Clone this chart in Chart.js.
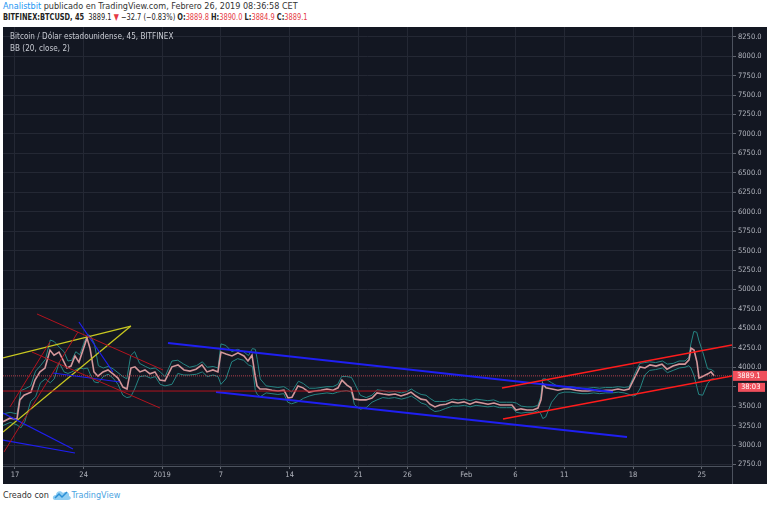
<!DOCTYPE html>
<html>
<head>
<meta charset="utf-8">
<script src="https://cdn.jsdelivr.net/npm/chart.js@4.4.1/dist/chart.umd.min.js"></script>
<style>
  body { margin:0; width:768px; height:506px; background:#fff; position:relative; overflow:hidden;
         font-family:'Liberation Sans Narrow','DejaVu Sans Condensed','Open Sans',sans-serif; }
  #head1 { position:absolute; left:3px; top:1px; font-size:9px; color:#333; white-space:nowrap; }
  #head2 { position:absolute; left:3px; top:12px; font-size:9px; color:#222; white-space:nowrap;
           transform:scaleX(0.82); transform-origin:left top; }
  .red { color:#e53b45; }
  .blue { color:#2196f3; }
  #panel { position:absolute; left:3px; top:27px; width:764px; height:457px; background:#131722; }
  #legend { position:absolute; left:7px; top:3px; color:#c8cbd3; font-size:9px; line-height:12px;
            white-space:nowrap; transform:scaleX(0.9); transform-origin:left top; pointer-events:none; }
  #foot { position:absolute; left:3px; top:489px; font-size:9px; color:#333; white-space:nowrap; }
  #foot svg { vertical-align:middle; }
  #foot .tv { color:#4aa3df; }
</style>
</head>
<body>
<div id="head1"><span class="blue">Analistbit</span> publicado en TradingView.com, Febrero 26, 2019 08:36:58 CET</div>
<div id="head2"><b>BITFINEX:BTCUSD, 45</b>&nbsp; 3889.1 <span class="red">▼</span> −32.7 (−0.83%) <b>O:</b><span class="red">3889.8</span> <b>H:</b><span class="red">3890.0</span> <b>L:</b><span class="red">3884.9</span> <b>C:</b><span class="red">3889.1</span></div>
<div id="panel">
  <canvas id="chart"></canvas>
  <div id="legend">Bitcoin / Dólar estadounidense, 45, BITFINEX<br>BB (20, close, 2)</div>
</div>
<div id="foot">Creado con <svg width="20" height="12" viewBox="0 0 20 12"><path d="M3 11 C0 11 0 6 4 6 C4 2 9 1 11 4 C13 2 18 3 17 7 C20 8 19 11 16 11 Z" fill="#8fcdf2"/><path d="M3 9 L7 5 L10 8 L15 3" stroke="#2a8fd6" stroke-width="1.5" fill="none"/></svg><span class="tv">TradingView</span></div>

<script>
// x values are day numbers counted from Dec 1 2018 (Jan 1 = 32, Feb 1 = 63)
const xTickDays = [17, 24, 32, 38, 45, 52, 57, 63, 68, 73, 80, 87];
const xTickLabels = ["17", "24", "2019", "7", "14", "21", "26", "Feb", "6", "11", "18", "25"];
const yTicks = [2750, 3000, 3250, 3500, 3750, 4000, 4250, 4500, 4750, 5000, 5250, 5500, 5750,
  6000, 6250, 6500, 6750, 7000, 7250, 7500, 7750, 8000, 8250];

const days = [15.78, 16.49, 17.2, 17.5, 17.92, 18.63, 19.04, 19.55, 20.06, 20.57,
  20.98, 21.49, 21.89, 22.3, 22.71, 23.12, 23.52, 23.93, 24.34, 24.65,
  25.05, 25.46, 25.97, 26.48, 26.99, 27.5, 28.01, 28.42, 28.82, 29.23,
  29.74, 30.25, 30.76, 31.27, 31.78, 32.29, 33.0, 33.62, 34.23, 34.84,
  35.45, 36.06, 36.57, 37.18, 37.69, 38.0, 38.51, 39.12, 39.73, 40.34,
  40.75, 41.16, 41.47, 41.67, 41.97, 42.59, 43.2, 43.81, 44.42, 44.83,
  45.24, 45.85, 46.36, 46.97, 47.58, 48.19, 48.8, 49.42, 49.93, 50.33,
  50.84, 51.25, 51.56, 52.17, 52.78, 53.39, 53.9, 54.51, 55.12, 55.74,
  56.35, 56.96, 57.37, 57.88, 58.39, 58.9, 59.3, 59.81, 60.32, 60.94,
  61.55, 62.16, 62.77, 63.38, 63.99, 64.61, 65.22, 65.83, 66.44, 67.05,
  67.66, 68.07, 68.58, 69.19, 69.8, 70.31, 70.62, 70.82, 71.13, 71.74,
  72.35, 72.96, 73.58, 74.19, 74.8, 75.41, 76.02, 76.63, 77.24, 77.86,
  78.47, 79.08, 79.59, 80.0, 80.3, 80.71, 81.22, 81.73, 82.34, 82.95,
  83.46, 84.07, 84.69, 85.3, 85.71, 85.91, 86.22, 86.52, 86.73, 87.13,
  87.64, 87.95, 88.26];
const closes = [3300, 3345, 3330, 3580, 3640, 3680, 3835, 3940, 3990, 4220,
  4155, 4195, 4095, 3990, 4015, 4145, 4065, 4220, 4375, 4245,
  3940, 3885, 3940, 3965, 3915, 3860, 3745, 3720, 3990, 4005,
  3940, 3965, 3915, 3940, 3835, 3825, 4005, 4030, 3965, 3950,
  3975, 4030, 3940, 3965, 3940, 4195, 4170, 4145, 4185, 4145,
  4080, 4155, 3900, 3760, 3720, 3720, 3705, 3695, 3705, 3605,
  3615, 3760, 3735, 3680, 3695, 3705, 3720, 3705, 3735, 3835,
  3770, 3735, 3590, 3580, 3580, 3605, 3670, 3655, 3645, 3655,
  3630, 3655, 3680, 3630, 3590, 3580, 3525, 3490, 3515, 3525,
  3555, 3540, 3555, 3525, 3555, 3540, 3525, 3540, 3515, 3515,
  3515, 3450, 3465, 3450, 3450, 3475, 3580, 3785, 3735, 3720,
  3705, 3720, 3720, 3705, 3695, 3695, 3705, 3695, 3705, 3705,
  3720, 3705, 3720, 3825, 3900, 4005, 3990, 4030, 4015, 4040,
  3975, 4015, 4040, 4040, 4095, 4245, 4220, 4065, 3860, 3885,
  3915, 3940, 3889.1];

const bbDays = [15.78, 16.5, 17.2, 17.6, 18.0, 18.6, 19.1, 19.6, 20.1, 20.6,
  21.0, 21.5, 22.0, 22.4, 22.8, 23.2, 23.6, 24.0, 24.4, 24.7,
  25.1, 25.5, 26.0, 26.5, 27.0, 27.5, 28.0, 28.4, 28.8, 29.2,
  29.7, 30.3, 30.8, 31.3, 31.8, 32.3, 33.0, 33.6, 34.2, 34.8,
  35.5, 36.1, 36.6, 37.2, 37.7, 38.0, 38.5, 39.1, 39.7, 40.3,
  40.8, 41.2, 41.5, 41.7, 42.0, 42.6, 43.2, 43.8, 44.4, 44.8,
  45.2, 45.9, 46.4, 47.0, 47.6, 48.2, 48.8, 49.4, 49.9, 50.3,
  50.8, 51.3, 51.6, 52.2, 52.8, 53.4, 53.9, 54.5, 55.1, 55.7,
  56.4, 57.0, 57.4, 57.9, 58.4, 58.9, 59.3, 59.8, 60.3, 60.9,
  61.6, 62.2, 62.8, 63.4, 64.0, 64.6, 65.2, 65.8, 66.4, 67.1,
  67.7, 68.1, 68.6, 69.2, 69.8, 70.3, 70.6, 70.8, 71.1, 71.7,
  72.4, 73.0, 73.6, 74.2, 74.8, 75.4, 76.0, 76.6, 77.2, 77.9,
  78.5, 79.1, 79.6, 80.0, 80.3, 80.7, 81.2, 81.7, 82.3, 83.0,
  83.5, 84.1, 84.7, 85.3, 85.7, 85.9, 86.2, 86.5, 86.7, 87.1,
  87.6, 88.0, 88.3];
const bbUpper = [3400, 3420, 3400, 3700, 3720, 3760, 3950, 4020, 4100, 4350,
  4330, 4260, 4200, 4080, 4090, 4200, 4160, 4300, 4420, 4400,
  4300, 4020, 3990, 4010, 3980, 3930, 3880, 3850, 4150, 4200,
  4050, 4010, 3980, 3990, 3940, 3880, 4080, 4090, 4040, 4000,
  4020, 4070, 4000, 4010, 3990, 4300, 4280, 4200, 4230, 4200,
  4150, 4240, 4230, 4100, 3850, 3760, 3750, 3740, 3750, 3720,
  3680, 3820, 3790, 3730, 3730, 3740, 3750, 3750, 3780, 3880,
  3880, 3870, 3800, 3640, 3610, 3640, 3710, 3700, 3680, 3690,
  3670, 3690, 3720, 3680, 3650, 3640, 3600, 3560, 3560, 3560,
  3590, 3580, 3590, 3570, 3590, 3580, 3570, 3580, 3550, 3550,
  3550, 3540, 3500, 3490, 3490, 3510, 3620, 3850, 3850, 3800,
  3750, 3750, 3750, 3740, 3730, 3730, 3740, 3730, 3740, 3740,
  3750, 3740, 3750, 3860, 3950, 4050, 4060, 4070, 4060, 4080,
  4040, 4050, 4080, 4080, 4130, 4300, 4460, 4450, 4350, 4200,
  3980, 3970, 3940];
const bbLower = [3250, 3290, 3260, 3220, 3300, 3560, 3620, 3800, 3850, 3800,
  3850, 4060, 3940, 3920, 3940, 3970, 3990, 3980, 3990, 3900,
  3810, 3800, 3880, 3910, 3860, 3780, 3640, 3610, 3620, 3720,
  3880, 3890, 3860, 3880, 3780, 3760, 3780, 3920, 3900, 3900,
  3910, 3940, 3880, 3900, 3880, 3780, 3850, 4070, 4110, 4090,
  4030, 4010, 3700, 3650, 3620, 3670, 3660, 3650, 3660, 3550,
  3530, 3560, 3600, 3630, 3650, 3660, 3670, 3660, 3680, 3690,
  3700, 3680, 3520, 3460, 3480, 3550, 3580, 3610, 3600, 3610,
  3590, 3610, 3630, 3590, 3540, 3520, 3470, 3430, 3440, 3470,
  3500, 3500, 3510, 3490, 3510, 3500, 3490, 3500, 3480, 3480,
  3480, 3420, 3410, 3420, 3420, 3440, 3400, 3340, 3360, 3550,
  3660, 3680, 3680, 3670, 3660, 3660, 3670, 3660, 3670, 3670,
  3680, 3670, 3650, 3630, 3640, 3720, 3900, 3960, 3970, 3990,
  3930, 3960, 3990, 4000, 4020, 3990, 3900, 3750, 3650, 3640,
  3790, 3850, 3850];

// trend lines drawn on the chart: [[day, price], [day, price]]
const darkRedLines = [
  [[19.24, 4685], [32.09, 3965]],
  [[18.73, 4196], [31.78, 3476]],
  [[15.88, 2910], [23.42, 4453]],
  [[16.49, 3489], [20.57, 4325]],
  [[15.78, 3694], [56.96, 3694]]
];
const brightRedLines = [
  [[66.64, 3733], [90.09, 4286]],
  [[66.75, 3334], [90.09, 3887]]
];
const blueLines = [
  [[32.6, 4312], [77.96, 3682]],
  [[37.49, 3682], [79.39, 3103]]
];
const thinBlueLines = [
  [[23.52, 4582], [26.99, 3939]],
  [[20.87, 3926], [27.7, 3810]],
  [[15.78, 3412], [22.91, 2949]],
  [[15.78, 3064], [23.12, 2897]]
];
const yellowLines = [
  [[15.78, 4119], [28.82, 4530]],
  [[15.78, 3167], [28.82, 4530]]
];
const lastPrice = 3889.1;
const countdown = "38:03";
const xMin = 15.78, xMax = 90.09, yMin = 2730, yMax = 8375;

const FONT = "'Liberation Sans Narrow','DejaVu Sans Condensed','Open Sans',sans-serif";

function seg(pts, color, width, order) {
  return {
    data: pts.map(p => ({ x: p[0], y: p[1] })),
    borderColor: color, borderWidth: width, pointRadius: 0, tension: 0, order: order
  };
}

let datasets = [];
darkRedLines.forEach(l => datasets.push(seg(l, "#b3141f", 1, 0)));
brightRedLines.forEach(l => datasets.push(seg(l, "#ff1c1c", 1.6, 0)));
blueLines.forEach(l => datasets.push(seg(l, "#1f1ff2", 2, 0)));
thinBlueLines.forEach(l => datasets.push(seg(l, "#1f1ff2", 1.2, 0)));
yellowLines.forEach(l => datasets.push(seg(l, "#c9c820", 1.3, 0)));
datasets.push({
  data: [{ x: xMin, y: lastPrice }, { x: xMax, y: lastPrice }],
  borderColor: "rgba(230,80,90,0.75)", borderWidth: 1, borderDash: [1, 1], pointRadius: 0, order: 1
});
datasets.push(seg(days.map((d, i) => [d, closes[i]]), "#d4979b", 1.6, 2));
datasets.push(seg(bbDays.map((d, i) => [d, bbUpper[i]]), "#268583", 1, 3));
datasets.push(seg(bbDays.map((d, i) => [d, bbLower[i]]), "#268583", 1, 3));

const priceTag = {
  id: "priceTag",
  afterDraw(chart) {
    const { ctx, chartArea, scales } = chart;
    const y = scales.y.getPixelForValue(lastPrice);
    const r = chartArea.right;
    ctx.save();
    ctx.strokeStyle = "#4c525e";
    ctx.lineWidth = 1;
    ctx.beginPath();
    ctx.moveTo(r + 0.5, 0);
    ctx.lineTo(r + 0.5, chart.height);
    ctx.stroke();
    ctx.fillStyle = "#ef4f5c";
    ctx.fillRect(r + 1, y - 5, chart.width - r - 1, 10);
    ctx.fillRect(r + 6, y + 7, 27, 9);
    ctx.fillStyle = "#fff";
    ctx.font = "7.5px " + FONT;
    ctx.textBaseline = "middle";
    ctx.fillText(lastPrice.toFixed(1), r + 5, y + 0.5);
    ctx.fillText(countdown, r + 9, y + 11.5);
    ctx.restore();
  }
};

new Chart(document.getElementById("chart"), {
  type: "line",
  data: { datasets: datasets },
  options: {
    responsive: true,
    maintainAspectRatio: false,
    animation: false,
    layout: { padding: 0 },
    plugins: { legend: { display: false }, tooltip: { enabled: false } },
    scales: {
      x: {
        type: "linear", min: xMin, max: xMax,
        afterBuildTicks: s => { s.ticks = xTickDays.map(v => ({ value: v })); },
        afterFit: s => { s.height = 18; s.paddingLeft = 0; s.paddingRight = 0; },
        grid: { color: "#242834", tickColor: "#60646e", tickLength: 3 },
        border: { color: "#4c525e" },
        ticks: {
          color: "#b2b5be", font: { size: 7.5, family: FONT }, padding: 2,
          maxRotation: 0, autoSkip: false,
          callback: (v, i) => xTickLabels[i]
        }
      },
      y: {
        type: "linear", position: "right", min: yMin, max: yMax,
        afterBuildTicks: s => { s.ticks = yTicks.map(v => ({ value: v })); },
        afterFit: s => { s.width = 35; s.paddingTop = 0; s.paddingBottom = 0; },
        grid: { color: "#242834", tickColor: "#60646e", tickLength: 4 },
        border: { color: "#4c525e" },
        ticks: {
          color: "#b2b5be", font: { size: 7.5, family: FONT }, padding: 2,
          callback: v => v.toFixed(1)
        }
      }
    }
  },
  plugins: [priceTag]
});
</script>
</body>
</html>
